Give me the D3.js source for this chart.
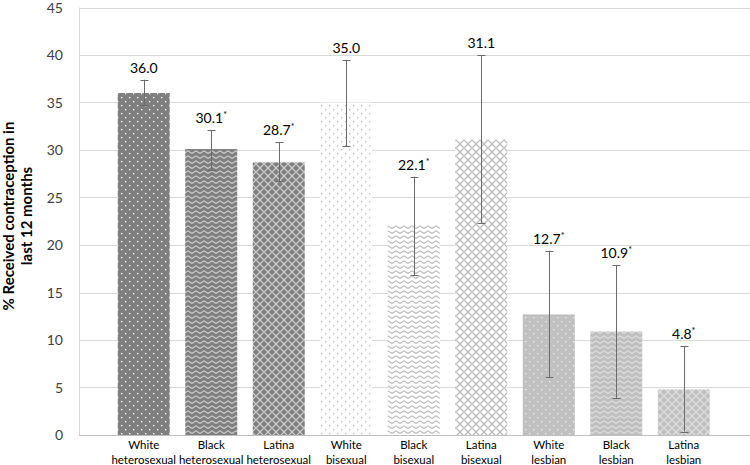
<!DOCTYPE html>
<html><head><meta charset="utf-8">
<script src="https://cdn.jsdelivr.net/npm/d3@7"></script>
<style>body{margin:0;background:#fff}svg{display:block}text{font-family:Lato,"Open Sans",sans-serif}</style>
</head><body><svg id="c" width="750" height="465"></svg>
<script>
const catLine1 = ["White","Black","Latina","White","Black","Latina","White","Black","Latina"];
const catLine2 = ["heterosexual","heterosexual","heterosexual","bisexual","bisexual","bisexual","lesbian","lesbian","lesbian"];
const values = [36.0,30.1,28.7,35.0,22.1,31.1,12.7,10.9,4.8];
const lower = [34.7,27.9,26.7,30.4,16.8,22.3,6.1,3.9,0.35];
const upper = [37.4,32.1,30.85,39.5,27.2,40.0,19.4,17.9,9.35];
const significant = [false,true,true,false,true,false,true,true,true];
const groups = ["het","het","het","bi","bi","bi","les","les","les"];
const patterns = ["dots","zig","dia","dots","zig","dia","dots","zig","dia"];
const yTicks = [0,5,10,15,20,25,30,35,40,45];

const svg = d3.select("#c");
const y = d3.scaleLinear().domain([0,45]).range([435,7.5]);
const x = d3.scaleBand().domain(d3.range(9)).range([110,717.5]).paddingInner(0.23).paddingOuter(0.115);

// patterns
const bg = {het:"#7f7f7f", bi:"#ffffff", les:"#c0c0c0"};
const fg = {het:"#d0d0d0", bi:"#b8b8b8", les:"#e0e0e0"};
const defs = svg.append("defs");
Object.keys(bg).forEach(g=>{
  let p = defs.append("pattern").attr("id","dots-"+g).attr("patternUnits","userSpaceOnUse").attr("width",8).attr("height",8);
  p.append("rect").attr("width",8).attr("height",8).attr("fill",bg[g]);
  const dc = g==="het"?"#ffffff":(g==="les"?"#eeeeee":"#bbbbbb");
  p.append("rect").attr("x",1).attr("y",1).attr("width",1.3).attr("height",1.3).attr("fill",dc);
  p.append("rect").attr("x",5).attr("y",5).attr("width",1.3).attr("height",1.3).attr("fill",dc);
  p = defs.append("pattern").attr("id","zig-"+g).attr("patternUnits","userSpaceOnUse").attr("width",8).attr("height",5);
  p.append("rect").attr("width",8).attr("height",5).attr("fill",bg[g]);
  p.append("path").attr("d","M0,3.5 L4,0.8 L8,3.5").attr("fill","none").attr("stroke",fg[g]).attr("stroke-width",1.1);
  p = defs.append("pattern").attr("id","dia-"+g).attr("patternUnits","userSpaceOnUse").attr("width",8).attr("height",8);
  p.append("rect").attr("width",8).attr("height",8).attr("fill",bg[g]);
  p.append("path").attr("d","M4,0 L8,4 L4,8 L0,4 Z").attr("fill","none").attr("stroke",fg[g]).attr("stroke-width",1.2);
});

// gridlines
svg.append("g").selectAll("line").data(yTicks).join("line")
  .attr("x1",79).attr("x2",750).attr("y1",d=>Math.round(y(d))+0.5).attr("y2",d=>Math.round(y(d))+0.5)
  .attr("stroke",d=>d===0?"#bfbfbf":"#d9d9d9").attr("stroke-width",1);
svg.append("line").attr("x1",79.5).attr("x2",79.5).attr("y1",y(45)).attr("y2",y(0))
  .attr("stroke","#d9d9d9");

// y ticks
svg.append("g").selectAll("text").data(yTicks).join("text")
  .attr("x",63).attr("y",d=>y(d)+5).attr("text-anchor","end")
  .attr("font-size",14).attr("fill","#404040").text(d=>d);

// y title
const yt = svg.append("text").attr("transform","translate(14,216) rotate(-90)")
  .attr("text-anchor","middle").attr("font-size",15).attr("font-weight","bold").attr("fill","#000");
yt.append("tspan").attr("x",0).attr("y",0).text("% Received contraception in");
yt.append("tspan").attr("x",0).attr("y",18).text("last 12 months");

// bars
svg.append("g").selectAll("rect").data(values).join("rect")
  .attr("x",(d,i)=>x(i)).attr("width",x.bandwidth())
  .attr("y",d=>y(d)).attr("height",d=>y(0)-y(d))
  .attr("fill",(d,i)=>`url(#${patterns[i]}-${groups[i]})`);

// error bars
const eb = svg.append("g").attr("stroke","#6b6b6b").attr("stroke-width",1);
values.forEach((v,i)=>{
  const cx = Math.round(x(i)+x.bandwidth()/2)+0.5;
  eb.append("line").attr("x1",cx).attr("x2",cx).attr("y1",y(lower[i])).attr("y2",y(upper[i]));
  eb.append("line").attr("x1",cx-4).attr("x2",cx+4).attr("y1",Math.round(y(lower[i]))+0.5).attr("y2",Math.round(y(lower[i]))+0.5);
  eb.append("line").attr("x1",cx-4).attr("x2",cx+4).attr("y1",Math.round(y(upper[i]))+0.5).attr("y2",Math.round(y(upper[i]))+0.5);
});

// value labels
const vl = svg.append("g");
values.forEach((v,i)=>{
  const t = vl.append("text").attr("x",x(i)+x.bandwidth()/2).attr("y",y(upper[i])-7)
    .attr("text-anchor","middle").attr("font-size",14).attr("fill","#000");
  t.append("tspan").text(v.toFixed(1));
  if(significant[i]) t.append("tspan").attr("dy",-5).attr("font-size",9).text("*");
});

// category labels
const cl = svg.append("g");
values.forEach((v,i)=>{
  const cx = x(i)+x.bandwidth()/2;
  cl.append("text").attr("x",cx).attr("y",449).attr("text-anchor","middle").attr("font-size",11.5).attr("fill","#000").text(catLine1[i]);
  cl.append("text").attr("x",cx).attr("y",464).attr("text-anchor","middle").attr("font-size",11.5).attr("fill","#000").text(catLine2[i]);
});
</script></body></html>
